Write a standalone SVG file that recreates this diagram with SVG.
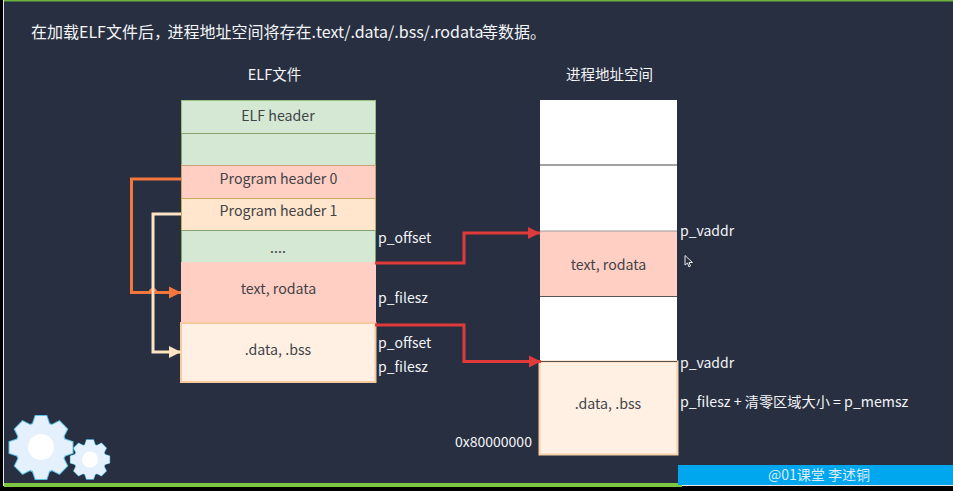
<svg xmlns="http://www.w3.org/2000/svg" width="953" height="491" viewBox="0 0 953 491">
<style>
text{font-family:"Noto Sans CJK SC","Noto Sans",sans-serif;font-size:14px}
.w{fill:#f4f5f7}
.d{fill:#3f4347;text-anchor:middle;font-size:14.2px}
.c{fill:none;stroke-width:3}
.g{stroke:#5cc0e4;stroke-width:2;fill:#5cc0e4}
.h{fill:#e4f0fc}
</style>
<defs>
<marker id="ao" markerUnits="userSpaceOnUse" markerWidth="13" markerHeight="14" refX="12" refY="7" orient="auto"><path d="M0 1L12 7L0 13Z" fill="#f4773b"/></marker>
<marker id="ap" markerUnits="userSpaceOnUse" markerWidth="13" markerHeight="14" refX="12" refY="7" orient="auto"><path d="M0 1L12 7L0 13Z" fill="#fde3c6"/></marker>
<marker id="ar" markerUnits="userSpaceOnUse" markerWidth="13" markerHeight="14" refX="12" refY="7" orient="auto"><path d="M0 1L12 7L0 13Z" fill="#e03a3a"/></marker>
<g id="gear">
<circle r="25"/>
<path id="tooth" d="M-8 -24L-5.500 -31.500H5.500L8 -24V24L5.500 31.500H-5.500L-8 24Z"/>
<use href="#tooth" transform="rotate(45)"/>
<use href="#tooth" transform="rotate(90)"/>
<use href="#tooth" transform="rotate(135)"/>
</g>
</defs>
<rect width="953" height="491" fill="#000"/>
<rect x="4" y="1" width="949" height="484" fill="#272f41"/>
<rect x="3" y="0" width="1" height="486" fill="#e8e8e8"/>
<rect x="4" y="0" width="949" height="1.500" fill="#6cb33e"/>
<rect x="4" y="483" width="678" height="4" fill="#7ec641"/>
<rect x="682" y="485" width="271" height="1" fill="#e8e8e8"/>
<text class="w" x="31" y="38" style="font-size:16px">在加载ELF文件后，<tspan dx="-2.500">进程地址空间将存在.text/.data/.bss/.rodata</tspan><tspan dx="-1.500">等数据。</tspan></text>
<text class="w" x="274.500" y="80" text-anchor="middle" style="font-size:14.500px">ELF文件</text>
<text class="w" x="609.500" y="80" text-anchor="middle" style="font-size:14.500px">进程地址空间</text>
<g id="elf-header"><rect x="181.500" y="100.500" width="194" height="33" fill="#d5e8d4" stroke="#98c081"/><text class="d" x="278" y="121">ELF header</text></g>
<g id="elf-blank"><rect x="181.500" y="133.500" width="194" height="32" fill="#d5e8d4" stroke="#82a46c"/></g>
<g id="ph0"><rect x="181.500" y="165.500" width="194" height="33" fill="#ffcfc4" stroke="#c9a27a"/><text class="d" x="278.500" y="184">Program header 0</text></g>
<g id="ph1"><rect x="181.500" y="198.500" width="194" height="32" fill="#ffe6cc" stroke="#c9a860"/><text class="d" x="278.500" y="216">Program header 1</text></g>
<g id="dots"><rect x="181.500" y="230.500" width="194" height="32" fill="#d5e8d4" stroke="#82a46c"/><text class="d" x="278" y="253">....</text></g>
<g id="elf-text"><rect x="181.500" y="262.500" width="194" height="60" fill="#ffcfc4" stroke="#ffcfc4"/><text class="d" x="278.500" y="294">text, rodata</text></g>
<g id="elf-data"><rect x="181" y="323" width="194.500" height="59" fill="#fff0e3" stroke="#f8c99a" stroke-width="2"/><text class="d" x="278" y="354.500">.data, .bss</text></g>
<g id="vm-1"><rect x="540" y="100" width="137" height="65" fill="#fff"/></g>
<g id="vm-2"><rect x="540" y="165" width="137" height="66" fill="#fff"/><path d="M540 165H677" stroke="#444"/></g>
<g id="vm-text"><rect x="540" y="231" width="137" height="65" fill="#ffcfc4"/><path d="M540 231H677" stroke="#999"/><path d="M540 296.500H677" stroke="#555"/><text class="d" x="608.500" y="270">text, rodata</text></g>
<g id="vm-3"><rect x="540" y="297" width="137" height="64" fill="#fff"/></g>
<g id="vm-data"><rect x="539.500" y="361.500" width="138" height="93" fill="#fff0e3" stroke="#f8d0a8" stroke-width="2"/><path d="M540 361.500H677" stroke="#555"/><text class="d" x="608" y="409">.data, .bss</text></g>
<g id="connectors">
<path class="c" stroke="#f4773b" marker-end="url(#ao)" d="M181 179H131.500V292.500H150A3 3 0 0 1 156 292.500H181"/>
<path class="c" stroke="#fde3c6" marker-end="url(#ap)" d="M181 214H153V352H181"/>
<path class="c" stroke="#e03a3a" marker-end="url(#ar)" d="M375 263H464V233H540"/>
<path class="c" stroke="#e03a3a" marker-end="url(#ar)" d="M375 325H464V361.500H541"/>
</g>
<g id="labels">
<text class="w" x="378" y="243">p_offset</text>
<text class="w" x="378" y="303">p_filesz</text>
<text class="w" x="378" y="348">p_offset</text>
<text class="w" x="378" y="372">p_filesz</text>
<text class="w" x="680" y="236">p_vaddr</text>
<text class="w" x="680" y="368">p_vaddr</text>
<text class="w" x="680" y="407" style="font-size:14.200px">p_filesz + 清零区域大小 = p_memsz</text>
<text class="w" x="455" y="447">0x80000000</text>
</g>
<g id="cursor"><path d="M685 255.500V265L687.500 263L689 267L690.500 266L689 262.500H692.500Z" fill="#272f41" stroke="#e8e8e8"/></g>
<g id="gears">
<use href="#gear" transform="translate(41 447.500)" class="g"/>
<use href="#gear" transform="translate(41 447.500)" class="h"/>
<circle cx="41" cy="447" r="13" fill="#fff"/>
<use href="#gear" transform="translate(90 459.500) scale(.62)" class="g"/>
<use href="#gear" transform="translate(90 459.500) scale(.62)" class="h"/>
<circle cx="90" cy="459.500" r="8" fill="#fff"/>
</g>
<g id="watermark"><rect x="678" y="465" width="275" height="20" fill="#00a6ee"/><text x="819" y="480" text-anchor="middle" fill="#dcecf8">@01课堂 李述铜</text></g>
</svg>
